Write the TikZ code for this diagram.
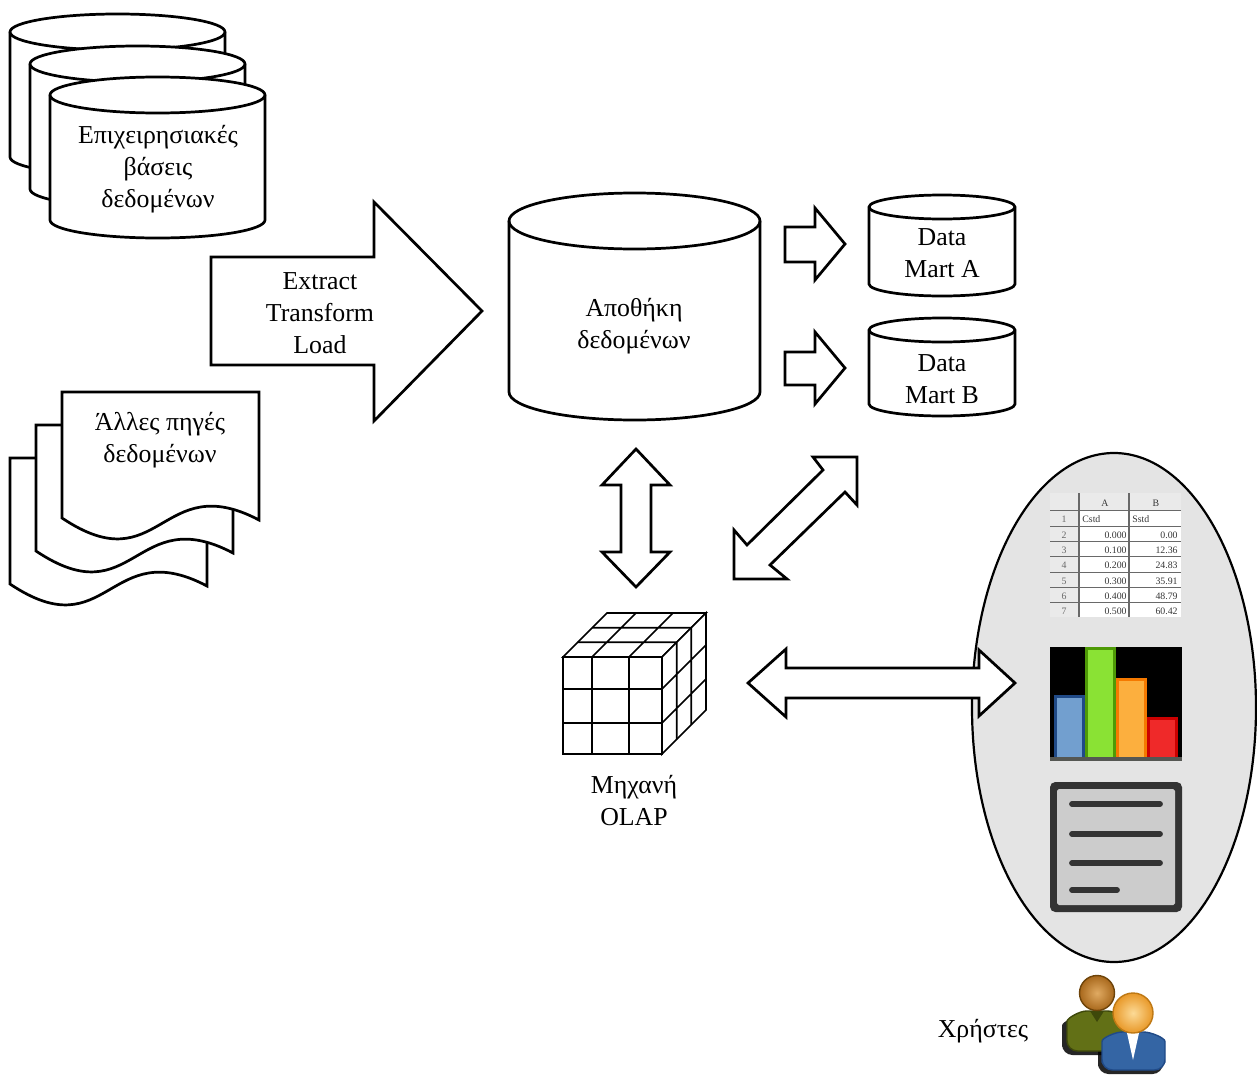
\documentclass[tikz,border=0pt]{standalone}
\usepackage{fontspec}
\setmainfont{Liberation Serif}
\definecolor{panelgray}{RGB}{228,228,228}
\definecolor{sheetgray}{RGB}{234,234,234}
\definecolor{sheetline}{RGB}{105,105,105}
\definecolor{sheettext}{RGB}{55,55,55}
\definecolor{barbase}{RGB}{85,87,83}
\definecolor{bluebd}{RGB}{32,74,135}
\definecolor{bluefl}{RGB}{114,159,207}
\definecolor{greenbd}{RGB}{78,154,6}
\definecolor{greenfl}{RGB}{138,226,52}
\definecolor{orangebd}{RGB}{245,121,0}
\definecolor{orangefl}{RGB}{252,175,62}
\definecolor{redbd}{RGB}{204,0,0}
\definecolor{redfl}{RGB}{239,41,41}
\definecolor{docdark}{RGB}{51,51,51}
\definecolor{doclight}{RGB}{204,204,204}
\definecolor{olivebody}{RGB}{98,112,22}
\definecolor{olivebd}{RGB}{62,72,10}
\definecolor{userblue}{RGB}{52,101,164}
\definecolor{userbluebd}{RGB}{32,74,135}
\definecolor{headbrownin}{RGB}{224,170,98}
\definecolor{headbrownout}{RGB}{168,104,28}
\definecolor{headbrownbd}{RGB}{110,68,10}
\definecolor{headorin}{RGB}{252,218,150}
\definecolor{headorout}{RGB}{232,152,40}
\definecolor{headorbd}{RGB}{190,120,20}

% cylinder: centre x, half width, top-ellipse y, bottom-ellipse y, ellipse y-radius
\newcommand{\dbcylinder}[5]{%
  \filldraw[outline] ({#1-#2},#3) -- ({#1-#2},#4)
    .. controls ({#1-#2},{#4+0.5523*#5}) and ({#1-0.5523*#2},{#4+#5}) .. (#1,{#4+#5})
    .. controls ({#1+0.5523*#2},{#4+#5}) and ({#1+#2},{#4+0.5523*#5}) .. ({#1+#2},#4)
    -- ({#1+#2},#3)
    .. controls ({#1+#2},{#3-0.5523*#5}) and ({#1+0.5523*#2},{#3-#5}) .. (#1,{#3-#5})
    .. controls ({#1-0.5523*#2},{#3-#5}) and ({#1-#2},{#3-0.5523*#5}) .. cycle;
  \draw[outline,fill=none] ({#1-#2},#3)
    .. controls ({#1-#2},{#3+0.5523*#5}) and ({#1-0.5523*#2},{#3+#5}) .. (#1,{#3+#5})
    .. controls ({#1+0.5523*#2},{#3+#5}) and ({#1+#2},{#3+0.5523*#5}) .. ({#1+#2},#3);
}
% wavy-bottom sheet: left, top, right, bottom-left y
\newcommand{\docsheet}[4]{%
  \filldraw[outline] (#1,#4) -- (#1,#2) -- (#3,#2) -- (#3,{#4+2})
    .. controls ({(#1+#3)/2},{#4-50}) and ({(#1+#3)/2},{#4+66}) .. (#1,#4) -- cycle;
}

\begin{document}
\begin{tikzpicture}[x=0.02cm, y=-0.02cm,
  outline/.style={draw=black, line width=1.55pt, fill=white, line join=miter},
  cubeline/.style={draw=black, line width=0.95pt},
  txt/.style={font=\fontsize{14.7}{18.14}\selectfont, align=center, anchor=base, inner sep=0pt},
  cell/.style={font=\fontsize{5.6}{6}\selectfont, text=sheettext, inner sep=0pt},
  ]
\useasboundingbox (0,0) rectangle (1257,1075);
\fill[white] (0,0) rectangle (1257,1075);

% operational databases
\dbcylinder{117.5}{107.5}{32}{157}{18}
\dbcylinder{137.5}{107.5}{64}{189}{18}
\dbcylinder{157.5}{107.5}{95}{220}{18}
\node[txt] (opdb) at (158,207) {Επιχειρησιακές\\βάσεις\\δεδομένων};

% other data sources
\docsheet{10}{458}{207}{584}
\docsheet{36}{425}{233}{551}
\docsheet{62}{392}{259}{518}
\node[txt] (othersrc) at (160,462) {Άλλες πηγές\\δεδομένων};

% ETL arrow
\filldraw[outline] (211,257) -- (374,257) -- (374,202) -- (482,311) -- (374,421) -- (374,365) -- (211,365) -- cycle;
\node[txt] (etl) at (320,353) {Extract\\Transform\\Load};

% data warehouse
\dbcylinder{634.5}{125.5}{221}{392}{28}
\node[txt] (dw) at (634,348) {Αποθήκη\\δεδομένων};

% data marts
\dbcylinder{942}{73}{207}{284}{12}
\node[txt] (martA) at (942,277) {Data\\Mart A};
\dbcylinder{942}{73}{330}{404}{12}
\node[txt] (martB) at (942,403) {Data\\Mart B};

% arrows to the marts
\filldraw[outline] (785,227) -- (815,227) -- (815,208) -- (845,244) -- (815,280) -- (815,262) -- (785,262) -- cycle;
\filldraw[outline] (785,352) -- (815,352) -- (815,332) -- (845,368) -- (815,404) -- (815,385) -- (785,385) -- cycle;

% warehouse <-> OLAP
\filldraw[outline] (636,449) -- (670,485) -- (651,485) -- (651,552) -- (670,552) -- (636,587)
  -- (602,552) -- (621,552) -- (621,485) -- (602,485) -- cycle;
% marts <-> OLAP
\filldraw[outline] (813,457) -- (823,470) -- (747,545) -- (734,530) -- (734,579) -- (787,579)
  -- (770,565) -- (845,492) -- (857,505) -- (857,457) -- cycle;

% OLAP cube
\filldraw[cubeline, fill=white] (563,657) rectangle (662,754);
\draw[cubeline] (592,657) -- (592,754) (629,657) -- (629,754) (563,689) -- (662,689) (563,723) -- (662,723);
\filldraw[cubeline, fill=white] (563,657) -- (607,613) -- (706,613) -- (662,657) -- cycle;
\draw[cubeline] (577.7,642.3) -- (676.7,642.3) (592.3,627.7) -- (691.3,627.7)
  (592,657) -- (636,613) (629,657) -- (673,613);
\filldraw[cubeline, fill=white] (662,657) -- (706,613) -- (706,710) -- (662,754) -- cycle;
\draw[cubeline] (676.7,642.3) -- (676.7,739.3) (691.3,627.7) -- (691.3,724.7)
  (662,689) -- (706,645) (662,723) -- (706,679);
\node[txt] (olap) at (634,825) {Μηχανή\\OLAP};

% user tools panel
\filldraw[fill=panelgray, draw=black, line width=1.25pt] (1114,707.5) ellipse [x radius=142, y radius=254.5];

% spreadsheet
\fill[sheetgray] (1050,493) rectangle (1181,617);
\fill[white] (1079,510) rectangle (1181,617);
\foreach \yy in {510,526,541,556,572,587,602}
  \draw[sheetline, line width=0.55pt] (1050,\yy) -- (1181,\yy);
\draw[sheetline, line width=0.8pt] (1079,493) -- (1079,617) (1129,493) -- (1129,617);
\node[cell, anchor=base] (hA) at (1105,506) {A};
\node[cell, anchor=base] (hB) at (1156,506) {B};
\foreach \r/\yy in {1/522,2/538,3/553,4/568,5/584,6/599,7/614}
  \node[cell, anchor=base, text=sheetline] (rn\r) at (1064,\yy) {\r};
\node[cell, anchor=base west] (c1a) at (1082,522) {Cstd};
\node[cell, anchor=base west] (c1b) at (1132,522) {Sstd};
\foreach \r/\yy/\va/\vb in {2/538/0.000/0.00,3/553/0.100/12.36,4/568/0.200/24.83,5/584/0.300/35.91,6/599/0.400/48.79,7/614/0.500/60.42}{
  \node[cell, anchor=base east] (ca\r) at (1127,\yy) {\va};
  \node[cell, anchor=base east] (cb\r) at (1178,\yy) {\vb};
}

% bar chart
\fill[black] (1050,647) rectangle (1182,760);
\fill[bluebd] (1054,695) rectangle (1085,757);
\fill[bluefl] (1057,698) rectangle (1082,757);
\fill[greenbd] (1085,647) rectangle (1116,757);
\fill[greenfl] (1088,650) rectangle (1113,757);
\fill[orangebd] (1116,678) rectangle (1147,757);
\fill[orangefl] (1119,681) rectangle (1144,757);
\fill[redbd] (1147,717) rectangle (1178,757);
\fill[redfl] (1150,720) rectangle (1175,757);
\fill[barbase] (1050,757) rectangle (1182,761);

% text document
\fill[docdark, rounded corners=3pt] (1050,782) rectangle (1182,912);
\fill[doclight, rounded corners=1pt] (1057,789) rectangle (1175,905);
\draw[docdark, line width=3.3pt, line cap=round] (1072,804) -- (1160,804) (1072,834) -- (1160,834)
  (1072,863) -- (1160,863) (1072,890) -- (1117,890);

% horizontal arrow OLAP <-> tools
\filldraw[outline] (748,683) -- (786,649) -- (786,668) -- (979,668) -- (979,650) -- (1015,683)
  -- (979,716) -- (979,698) -- (786,698) -- (786,717) -- cycle;

% users
\fill[black, opacity=0.85, rounded corners=6pt] (1062,1055) -- (1062,1036)
  .. controls (1062,1022) and (1076,1015) .. (1093,1015) .. controls (1110,1015) and (1124,1022) .. (1124,1036) -- (1124,1055) -- cycle;
\fill[black, opacity=0.85, rounded corners=6pt] (1098,1074) -- (1098,1056)
  .. controls (1098,1042) and (1112,1036) .. (1130,1036) .. controls (1148,1036) and (1163,1042) .. (1163,1056) -- (1163,1074) -- cycle;
\filldraw[fill=olivebody, draw=olivebd, line width=0.8pt, rounded corners=6pt] (1067,1051) -- (1067,1032)
  .. controls (1067,1018) and (1080,1011) .. (1097,1011) .. controls (1114,1011) and (1128,1018) .. (1128,1032) -- (1128,1051) -- cycle;
\fill[olivebd] (1090,1011) -- (1104,1011) -- (1097,1022) -- cycle;
\shade[inner color=headbrownin, outer color=headbrownout] (1097,993) circle [radius=17.5];
\draw[headbrownbd, line width=0.8pt] (1097,993) circle [radius=17.5];
\filldraw[fill=userblue, draw=userbluebd, line width=0.8pt, rounded corners=6pt] (1102,1070) -- (1102,1052)
  .. controls (1102,1038) and (1115,1032) .. (1133,1032) .. controls (1151,1032) and (1165,1038) .. (1165,1052) -- (1165,1070) -- cycle;
\fill[white] (1127,1033) -- (1139,1033) -- (1133,1060) -- cycle;
\shade[inner color=headorin, outer color=headorout] (1133,1013) circle [radius=20];
\draw[headorbd, line width=0.8pt] (1133,1013) circle [radius=20];
\node[txt] (users) at (983,1037) {Χρήστες};
\end{tikzpicture}
\end{document}
